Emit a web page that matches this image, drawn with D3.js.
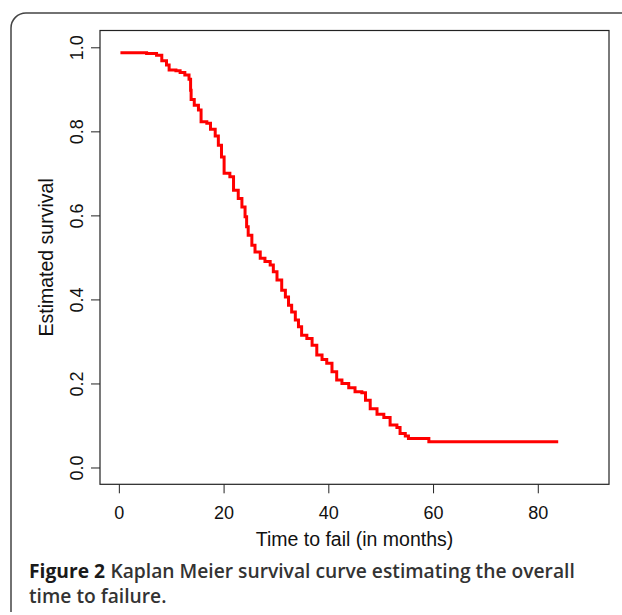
<!DOCTYPE html>
<html>
<head>
<meta charset="utf-8">
<script src="https://cdn.jsdelivr.net/npm/d3@7"></script>
<style>
  body { margin: 0; background: #fff; }
  svg { display: block; }
</style>
</head>
<body>
<script>
// page size
var svgWidth = 622;
var svgHeight = 615;

// Kaplan Meier estimate (time in months, survival)
var times = [0.3, 5.3, 7.2, 8.2, 9.1, 9.6, 10.9, 11.7, 12.6, 13.4, 13.7, 13.8, 14.4, 15.2, 15.7,
  16.8, 17.5, 18.4, 19.0, 19.6, 20.1, 21.2, 21.9, 22.8, 23.5, 24.1, 24.4, 24.7, 25.4, 26.0,
  27.0, 27.9, 28.9, 29.5, 30.2, 31.1, 31.8, 32.4, 33.0, 33.7, 34.3, 34.9, 35.9, 36.9, 37.8,
  38.8, 39.7, 40.7, 41.6, 42.6, 43.9, 45.1, 46.4, 47.1, 48.0, 49.3, 50.6, 51.8, 53.1, 53.7,
  54.7, 55.3, 58.2, 59.2, 83.9];
var survival = [0.987, 0.985, 0.981, 0.968, 0.958, 0.946, 0.944, 0.940, 0.934, 0.924, 0.898, 0.876, 0.862, 0.851, 0.823,
  0.819, 0.805, 0.789, 0.767, 0.739, 0.700, 0.692, 0.660, 0.640, 0.620, 0.597, 0.573, 0.553, 0.529, 0.513,
  0.498, 0.490, 0.482, 0.466, 0.446, 0.422, 0.406, 0.386, 0.370, 0.351, 0.335, 0.315, 0.307, 0.291, 0.268,
  0.257, 0.248, 0.228, 0.208, 0.200, 0.190, 0.180, 0.178, 0.160, 0.140, 0.127, 0.119, 0.101, 0.095, 0.081,
  0.075, 0.069, 0.069, 0.061, 0.061];

var xTicks = [0, 20, 40, 60, 80];
var yTicks = [0, 0.2, 0.4, 0.6, 0.8, 1.0];
var xTitle = "Time to fail (in months)";
var yTitle = "Estimated survival";
var captionHead = "Figure 2";
var captionLine1 = "Kaplan Meier survival curve estimating the overall";
var captionLine2 = "time to failure.";

// plot region (R style box)
var plot = {left: 100, right: 609, top: 30.5, bottom: 484.3};

var svg = d3.select("body")
    .append("svg")
    .attr("width", svgWidth)
    .attr("height", svgHeight);

// outer frame with rounded corner, runs off the page at the right
svg.append("path")
    .attr("d", "M11,612 V28 A15,15 0 0 1 26,13 H622")
    .attr("fill", "none")
    .attr("stroke", "#444")
    .attr("stroke-width", 1.5);

var x = d3.scaleLinear().domain([-3.6, 93.6]).range([plot.left, plot.right]);
var y = d3.scaleLinear().domain([-0.04, 1.04]).range([plot.bottom, plot.top]);

var tickFont = "'Liberation Sans', Arial, Helvetica, sans-serif";

// x axis
var gx = svg.append("g")
    .attr("transform", "translate(0," + plot.bottom + ")")
    .call(d3.axisBottom(x).tickValues(xTicks).tickSize(9).tickPadding(13).tickFormat(d3.format("d")));
gx.select(".domain").remove();
gx.selectAll("line").attr("stroke", "#222");
gx.selectAll("text")
    .attr("fill", "#111")
    .style("font-family", tickFont)
    .style("font-size", "18px");

// y axis, labels turned like R's default las=0
var gy = svg.append("g")
    .attr("transform", "translate(" + plot.left + ",0)")
    .call(d3.axisLeft(y).tickValues(yTicks).tickSize(9).tickFormat(d3.format(".1f")));
gy.select(".domain").remove();
gy.selectAll("line").attr("stroke", "#222");
gy.selectAll("text")
    .attr("x", null)
    .attr("dy", null)
    .attr("text-anchor", "middle")
    .attr("transform", "translate(-17,0) rotate(-90)")
    .attr("fill", "#111")
    .style("font-family", tickFont)
    .style("font-size", "18px");

// box
svg.append("rect")
    .attr("x", plot.left)
    .attr("y", plot.top)
    .attr("width", plot.right - plot.left)
    .attr("height", plot.bottom - plot.top)
    .attr("fill", "none")
    .attr("stroke", "#222")
    .attr("stroke-width", 1.2);

// axis titles
svg.append("text")
    .attr("x", (plot.left + plot.right) / 2)
    .attr("y", 546)
    .attr("text-anchor", "middle")
    .attr("fill", "#111")
    .style("font-family", tickFont)
    .style("font-size", "19.5px")
    .text(xTitle);

svg.append("text")
    .attr("transform", "translate(53," + ((plot.top + plot.bottom) / 2) + ") rotate(-90)")
    .attr("text-anchor", "middle")
    .attr("fill", "#111")
    .style("font-family", tickFont)
    .style("font-size", "19.5px")
    .text(yTitle);

// survival curve
var kmData = times.map(function(t, i) { return {t: t, s: survival[i]}; });
var line = d3.line()
    .x(function(d) { return x(d.t); })
    .y(function(d) { return y(d.s); })
    .curve(d3.curveStepAfter);

svg.append("path")
    .datum(kmData)
    .attr("d", line)
    .attr("fill", "none")
    .attr("stroke", "#ff0000")
    .attr("stroke-width", 3);

// caption: bold head, then the rest on the same line, fitted to about 548px
var capFont = "'Open Sans', 'Noto Sans', sans-serif";
var capHead = svg.append("text")
    .attr("x", 29)
    .attr("y", 578)
    .attr("font-weight", 700)
    .attr("fill", "#1a1a1a")
    .style("font-family", capFont)
    .style("font-size", "16px")
    .text(captionHead);
var capRest = svg.append("text")
    .attr("y", 578)
    .attr("font-weight", 600)
    .attr("fill", "#333")
    .style("font-family", capFont)
    .style("font-size", "16px")
    .text(captionLine1);
var cap2 = svg.append("text")
    .attr("x", 29)
    .attr("y", 603)
    .attr("font-weight", 600)
    .attr("fill", "#333")
    .style("font-family", capFont)
    .style("font-size", "16px")
    .text(captionLine2);

var gap = 0.28; // space between head and rest, in em
var w = capHead.node().getComputedTextLength() + capRest.node().getComputedTextLength() + gap * 16;
var fs = 16 * 546 / w;
capHead.style("font-size", fs + "px");
capRest.style("font-size", fs + "px");
cap2.style("font-size", fs + "px");
capRest.attr("x", 29 + capHead.node().getComputedTextLength() + gap * fs);
</script>
</body>
</html>
